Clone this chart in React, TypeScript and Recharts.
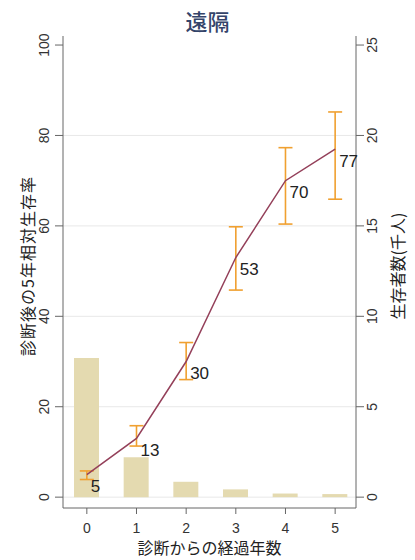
import { ComposedChart, Bar, Line, XAxis, YAxis, CartesianGrid, ErrorBar, LabelList } from 'recharts';

// 診断からの経過年数
const years = [0, 1, 2, 3, 4, 5];
// 5年相対生存率 (%) と 95% 信頼区間
const survivalRate = [5, 13, 30, 53, 70, 77];
const ciLow = [3.9, 11.3, 26.0, 45.8, 60.4, 65.9];
const ciHigh = [5.8, 15.8, 34.2, 59.8, 77.3, 85.2];
// 生存者数 (千人)
const survivors = [7.7, 2.2, 0.85, 0.43, 0.2, 0.17];

const leftTicks = [0, 20, 40, 60, 80, 100];
const rightTicks = [0, 5, 10, 15, 20, 25];

const data = years.map((year, i) => ({
  year,
  rate: survivalRate[i],
  err: [survivalRate[i] - ciLow[i], ciHigh[i] - survivalRate[i]],
  count: survivors[i],
}));

const AXIS = '#666';
const FONT = '"Liberation Sans", Arial, sans-serif';
const JP = '"Noto Sans CJK JP", sans-serif';

const LeftTick = ({ x, y, payload }: any) => (
  <text x={x - 9} y={y} transform={`rotate(-90, ${x - 9}, ${y})`} textAnchor="middle" dominantBaseline="central"
    fontSize={14} fontFamily={FONT} fill="#333">{payload.value}</text>
);

const RightTick = ({ x, y, payload }: any) => (
  <text x={x + 6} y={y} transform={`rotate(-90, ${x + 6}, ${y})`} textAnchor="middle" dominantBaseline="central"
    fontSize={14} fontFamily={FONT} fill="#333">{payload.value}</text>
);

const BottomTick = ({ x, y, payload }: any) => (
  <text x={x} y={y + 12} textAnchor="middle" dominantBaseline="central" fontSize={14} fontFamily={FONT} fill="#333">
    {payload.value}
  </text>
);

const rateLabel = ({ x, y, value }: any) => (
  <text x={x + 4} y={y + 12} dominantBaseline="central" fontSize={17} fontFamily={FONT} fill="#222">{value}</text>
);

export default function App() {
  return (
    <div style={{ position: 'absolute', left: 0, top: 0, width: 415, height: 560, background: '#fff' }}>
      <div style={{ position: 'absolute', top: 6, left: 0, width: 415, textAlign: 'center', fontSize: 22,
        lineHeight: '28px', fontFamily: JP, color: '#34446a', fontWeight: 500 }}>遠隔</div>
      <ComposedChart width={415} height={560} data={data} margin={{ top: 36, right: 0, bottom: 0, left: 0 }}>
        <CartesianGrid yAxisId="left" vertical={false} horizontalValues={[0, 20, 40, 60, 80]} stroke="#e8e8e8" />
        <XAxis dataKey="year" type="number" domain={[-0.48, 5.42]} ticks={years} allowDataOverflow
          height={52} tickSize={6} stroke={AXIS} tick={<BottomTick />}
          label={{ content: ({ viewBox }: any) => (
            <text x={viewBox.x + viewBox.width / 2} y={547} textAnchor="middle" dominantBaseline="central"
              fontSize={16} fontFamily={JP} fill="#222">診断からの経過年数</text>
          ) }} />
        <YAxis yAxisId="left" orientation="left" width={63} domain={[-2.4, 102]} ticks={leftTicks} allowDataOverflow
          tickSize={8} stroke={AXIS} tick={<LeftTick />}
          label={{ content: () => (
            <text x={27} y={266} transform="rotate(-90, 27, 266)" textAnchor="middle" dominantBaseline="central"
              fontSize={16} letterSpacing={1} fontFamily={JP} fill="#222">診断後の5年相対生存率</text>
          ) }} />
        <YAxis yAxisId="right" orientation="right" width={59} domain={[-0.6, 25.5]} ticks={rightTicks} allowDataOverflow
          tickSize={8} stroke={AXIS} tick={<RightTick />}
          label={{ content: () => (
            <text x={397} y={266} transform="rotate(-90, 397, 266)" textAnchor="middle" dominantBaseline="central"
              fontSize={16} fontFamily={JP} fill="#222">生存者数(千人)</text>
          ) }} />
        <Bar yAxisId="right" dataKey="count" fill="#e4dab0" barSize={25} isAnimationActive={false} />
        <Line yAxisId="left" dataKey="rate" type="linear" stroke="#94405a" strokeWidth={1.5} dot={false}
          isAnimationActive={false}>
          <ErrorBar dataKey="err" direction="y" width={7} stroke="#f0a030" strokeWidth={1.6} />
          <LabelList dataKey="rate" content={rateLabel} />
        </Line>
      </ComposedChart>
    </div>
  );
}
